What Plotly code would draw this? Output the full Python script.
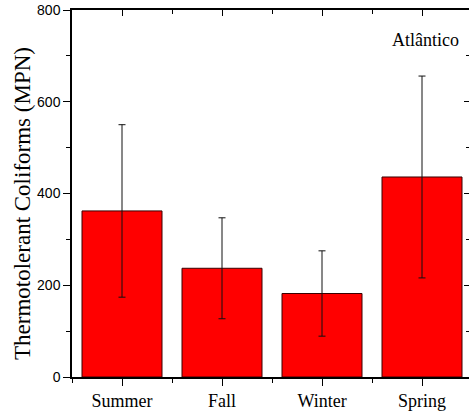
import plotly.graph_objects as go

seasons = ["Summer", "Fall", "Winter", "Spring"]
means = [362, 237, 182, 436]
errors = [188, 110, 93, 220]
y_ticks = [0, 200, 400, 600, 800]

xpos = list(range(len(seasons)))

fig = go.Figure()
fig.add_trace(go.Bar(
    x=xpos, y=means, width=0.8,
    marker=dict(color="#ff0000", line=dict(color="#3a0000", width=1)),
    error_y=dict(type="data", array=errors, visible=True, color="#111111",
                 thickness=1, width=3.5),
    showlegend=False,
))
# dummy trace for top/right tick axes
fig.add_trace(go.Scatter(x=[0], y=[0], xaxis="x2", yaxis="y2", mode="markers",
                         marker=dict(opacity=0), showlegend=False, hoverinfo="skip"))

xr = [-0.5, 3.47]
yr = [0, 800]
serif = "Liberation Serif, Times New Roman, serif"
sans = "Liberation Sans, Arial, sans-serif"

fig.update_layout(
    width=469, height=418,
    margin=dict(l=72, r=0, t=10, b=41),
    paper_bgcolor="white", plot_bgcolor="white",
    bargap=0.2,
    xaxis=dict(range=xr, tickmode="array", tickvals=xpos, ticktext=seasons,
               ticks="outside", ticklen=7, tickwidth=1, tickcolor="black",
               showline=True, linecolor="black", linewidth=1.5,
               showgrid=False, zeroline=False,
               tickfont=dict(family=serif, size=18, color="black"),
               minor=dict(tickmode="array", tickvals=[-0.5, 0.5, 1.5, 2.5, 3.5],
                          ticks="outside", ticklen=4, tickcolor="black", tickwidth=1)),
    yaxis=dict(range=yr, tickmode="array", tickvals=y_ticks,
               ticks="outside", ticklen=7, tickwidth=1, tickcolor="black",
               showline=True, linecolor="black", linewidth=1.5,
               showgrid=False, zeroline=False,
               tickfont=dict(family=sans, size=14, color="black"),
               minor=dict(tickmode="array", tickvals=[100, 300, 500, 700],
                          ticks="outside", ticklen=4, tickcolor="black", tickwidth=1)),
    xaxis2=dict(range=xr, overlaying="x", side="top", anchor="y",
                tickmode="array", tickvals=xpos, showticklabels=False,
                ticks="inside", ticklen=6, tickcolor="black", tickwidth=1,
                showline=True, linecolor="black", linewidth=1.5,
                showgrid=False, zeroline=False,
                minor=dict(tickmode="array", tickvals=[-0.5, 0.5, 1.5, 2.5, 3.5],
                           ticks="inside", ticklen=4, tickcolor="black", tickwidth=1)),
    yaxis2=dict(range=yr, overlaying="y", side="right", anchor="x",
                tickmode="array", tickvals=y_ticks, showticklabels=False,
                ticks="inside", ticklen=5, tickcolor="black", tickwidth=1,
                showline=False,
                showgrid=False, zeroline=False,
                minor=dict(tickmode="array", tickvals=[100, 300, 500, 700],
                           ticks="inside", ticklen=3, tickcolor="black", tickwidth=1)),
    annotations=[
        dict(text="Atlântico", x=0.89, y=0.918, xref="paper", yref="paper",
             showarrow=False, xanchor="center", yanchor="middle",
             font=dict(family=serif, size=18, color="black")),
        dict(text="Thermotolerant Coliforms (MPN)", x=-0.126, y=0.474,
             xref="paper", yref="paper", textangle=-90,
             showarrow=False, xanchor="center", yanchor="middle",
             font=dict(family=serif, size=23, color="black")),
    ],
)

fig.write_html("out.html")
